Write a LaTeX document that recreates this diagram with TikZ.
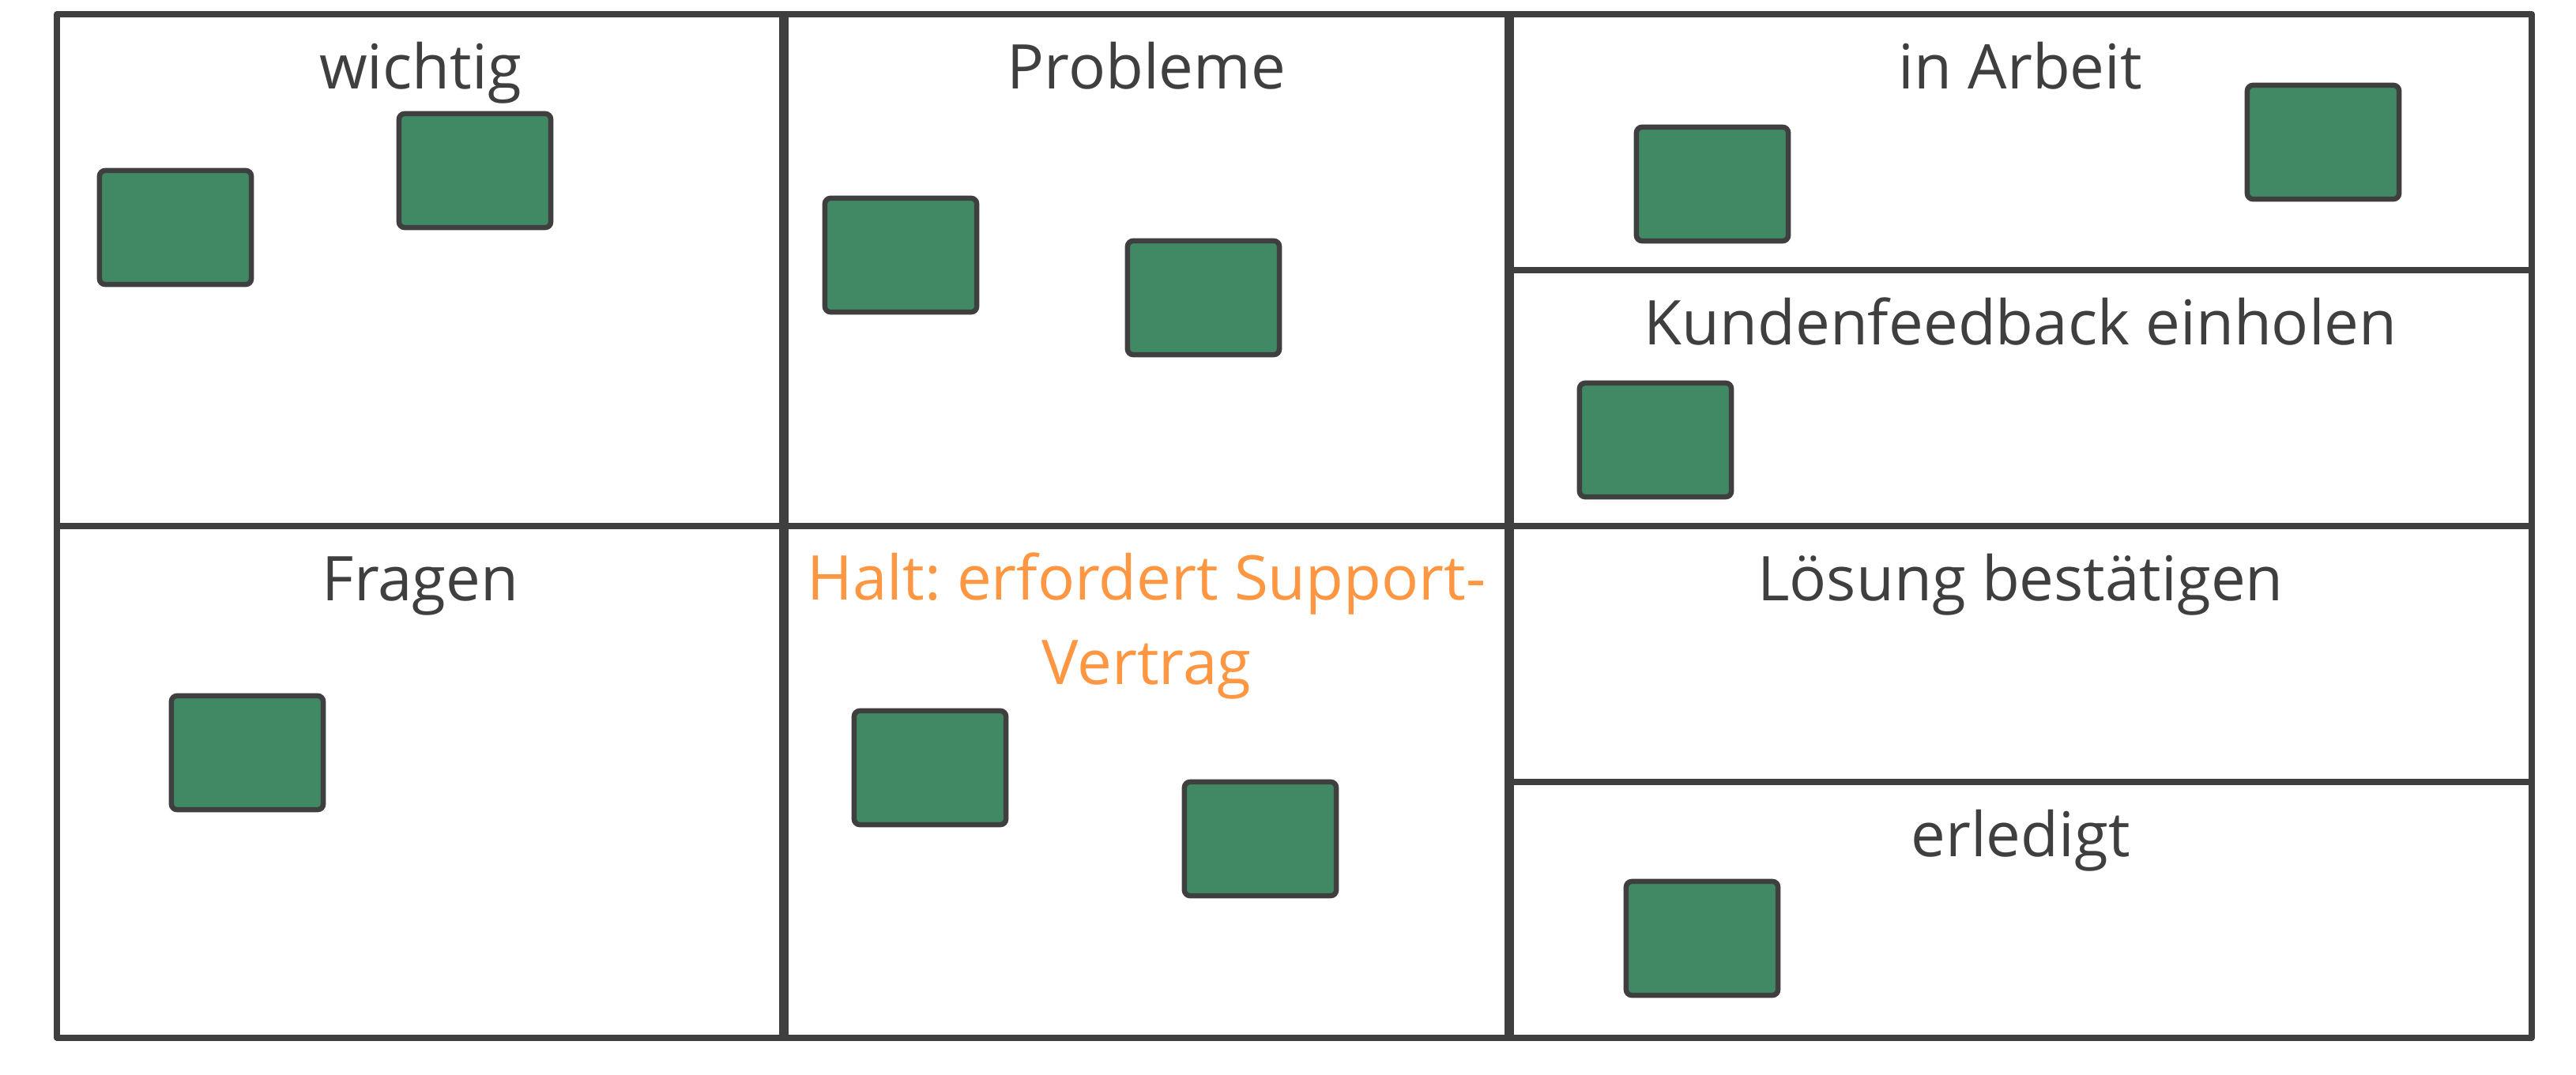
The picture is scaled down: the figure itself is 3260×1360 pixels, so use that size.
\documentclass[tikz,border=0pt]{standalone}
\usepackage{fontspec}
\setmainfont{Open Sans}
\frenchspacing
\definecolor{ink}{HTML}{3F3F3F}
\definecolor{notefill}{HTML}{418864}
\definecolor{haltc}{HTML}{FF9642}
\begin{document}
\begin{tikzpicture}[x=0.01cm,y=-0.01cm,
  board/.style={draw=ink,line width=0.08cm,line join=round},
  divider/.style={draw=ink,line width=0.12cm},
  note/.style={draw=ink,fill=notefill,line width=0.065cm,rounded corners=0.07cm,
    minimum width=1.92cm,minimum height=1.44cm,inner sep=0pt,outer sep=0pt},
  title/.style={text=ink,font=\fontsize{22.2}{30.2}\selectfont\frenchspacing,anchor=base,inner sep=0pt}]
\useasboundingbox (0,0) rectangle (3260,1360);
% board
\draw[board] (72,18) rectangle (3204,1314);
\draw[board] (72,666) -- (3204,666);
\draw[board] (1910,342) -- (3204,342);
\draw[board] (1910,990) -- (3204,990);
\draw[divider] (992,18) -- (992,1314);
\draw[divider] (1910,18) -- (1910,1314);
% titles
\node[title] (tWichtig) at (532,112) {wichtig};
\node[title] (tProbleme) at (1451,112) {Probleme};
\node[title] (tFragen) at (532,760) {Fragen};
\node[title,text=haltc,align=center] (tHalt) at (1451,866) {Halt: erfordert Support-\\Vertrag};
\node[title] (tArbeit) at (2557,112) {in Arbeit};
\node[title] (tKunden) at (2557,436) {Kundenfeedback einholen};
\node[title] (tLoesung) at (2557,760) {Lösung bestätigen};
\node[title] (tErledigt) at (2557,1084) {erledigt};
% notes
\node[note] (n1) at (222,288) {};
\node[note] (n2) at (601,216) {};
\node[note] (n3) at (1140,323) {};
\node[note] (n4) at (1523,377) {};
\node[note] (n5) at (2167,233) {};
\node[note] (n6) at (2940,180) {};
\node[note] (n7) at (2095,557) {};
\node[note] (n8) at (313,953) {};
\node[note] (n9) at (1177,972) {};
\node[note] (n10) at (1595,1062) {};
\node[note] (n11) at (2154,1188) {};
\end{tikzpicture}
\end{document}
